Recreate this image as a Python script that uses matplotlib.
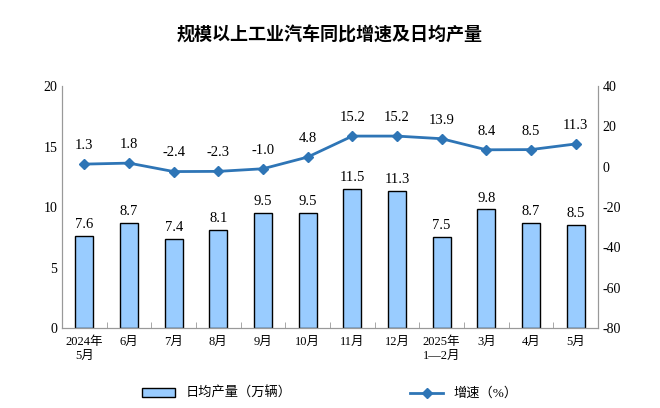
import matplotlib
matplotlib.use("Agg")
import matplotlib.pyplot as plt
import numpy as np

plt.rcParams["font.family"] = ["Liberation Serif", "Noto Sans CJK SC"]
plt.rcParams["axes.unicode_minus"] = False

months = ["2024年\n5月", "6月", "7月", "8月", "9月", "10月", "11月", "12月",
          "2025年\n1—2月", "3月", "4月", "5月"]
daily_output = [7.6, 8.7, 7.4, 8.1, 9.5, 9.5, 11.5, 11.3, 7.5, 9.8, 8.7, 8.5]
growth = [1.3, 1.8, -2.4, -2.3, -1.0, 4.8, 15.2, 15.2, 13.9, 8.4, 8.5, 11.3]

fig = plt.figure(figsize=(6.6, 4.08), dpi=100)
ax = fig.add_axes([0.094, 0.196, 0.812, 0.593])
x = np.arange(len(months))
bars = ax.bar(x, daily_output, width=0.4, color="#99CCFF", edgecolor="black", linewidth=1.0,
              label="日均产量（万辆）")
for xi, v in zip(x, daily_output):
    ax.text(xi, v + 0.4, f"{v:.1f}", ha="center", va="bottom", fontsize=10.5)
ax.set_ylim(0, 20)
ax.set_yticks(range(0, 21, 5))
ax.set_xlim(-0.5, len(months) - 0.5)
ax.set_xticks(x)
ax.set_xticklabels(months, fontsize=9)
ax.tick_params(axis="x", length=0, pad=6)
ax.set_xticks(np.arange(-0.5, len(months), 1), minor=True)
ax.tick_params(axis="x", which="minor", length=4, direction="in", color="#999999")
ax.tick_params(axis="y", length=0, labelsize=10)
ax.spines["top"].set_visible(False)
for s in ["left", "bottom", "right"]:
    ax.spines[s].set_color("#999999")

ax2 = ax.twinx()
ax2.plot(x, growth, color="#2E75B6", marker="D", markersize=5, linewidth=2,
         label="增速（%）")
for xi, v in zip(x, growth):
    ax2.text(xi, v + 6, f"{v:.1f}", ha="center", va="bottom", fontsize=10.5)
ax2.set_ylim(-80, 40)
ax2.set_yticks(range(-80, 41, 20))
ax2.tick_params(axis="y", length=0, labelsize=10)
ax2.spines["top"].set_visible(False)
for s in ["left", "bottom", "right"]:
    ax2.spines[s].set_color("#999999")

fig.text(0.5, 0.915, "规模以上工业汽车同比增速及日均产量", ha="center", va="center",
         fontsize=13, fontweight="bold", family="Noto Sans CJK SC")
fig.legend(handles=[bars, ax2.lines[0]], loc="lower center", ncol=2,
           bbox_to_anchor=(0.5, -0.01), frameon=False, fontsize=9.5,
           columnspacing=9, handlelength=2.5)

fig.savefig("out.png", dpi=100)
